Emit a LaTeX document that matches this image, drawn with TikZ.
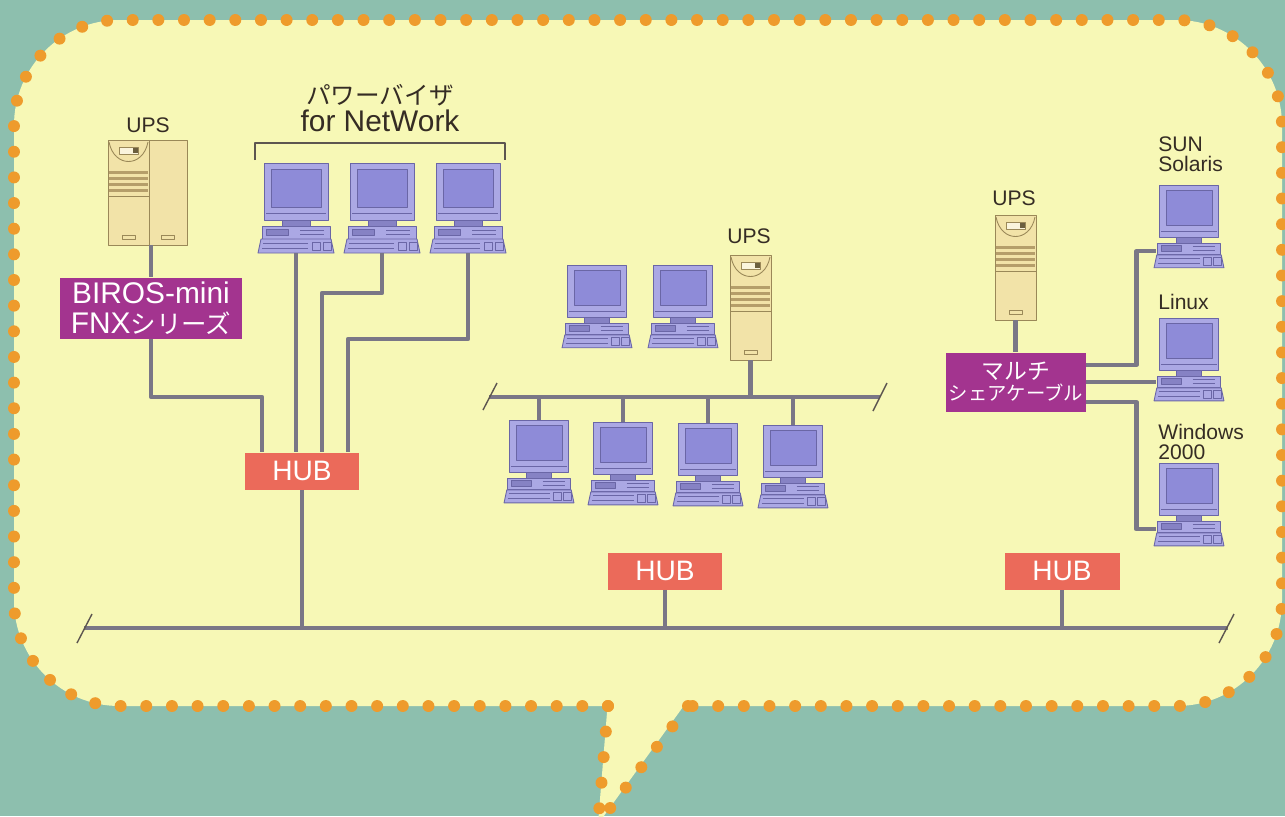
\documentclass[tikz,border=0pt]{standalone}
\usepackage{fontspec}
\setmainfont{Liberation Sans}
\newfontfamily\jp{Noto Sans CJK JP}
\usetikzlibrary{calc}

\definecolor{seabg}{HTML}{8DBFAE}
\definecolor{bubble}{HTML}{F7F8B6}
\definecolor{dotorange}{HTML}{EE9B2C}
\definecolor{wiregray}{HTML}{7A7786}
\definecolor{boxpurple}{HTML}{A3348F}
\definecolor{hubred}{HTML}{EB6A5A}
\definecolor{pcbody}{HTML}{ABA8E4}
\definecolor{pcscreen}{HTML}{8E8BD8}
\definecolor{pcedge}{HTML}{6A66A6}
\definecolor{pcdark}{HTML}{8682C4}
\definecolor{upsbody}{HTML}{F2E3A8}
\definecolor{upsedge}{HTML}{9A8858}
\definecolor{upsstripe}{HTML}{B59E6A}
\definecolor{inkbrown}{HTML}{352C24}

\tikzset{
  wire/.style={draw=wiregray, line width=2.5pt},
  tick/.style={draw=inkbrown!80, line width=0.8pt},
  pcline/.style={draw=pcedge, line width=0.5pt},
  upsline/.style={draw=upsedge, line width=0.5pt},
  hub/.style={fill=hubred, text=white, minimum width=2.3cm, minimum height=0.74cm,
    inner sep=0pt, font=\fontsize{16}{16}\selectfont},
  tag/.style={fill=boxpurple, text=white, align=center, inner sep=0pt},
  lbl/.style={text=inkbrown, inner sep=0pt, font=\fontsize{12}{11.5}\selectfont},
  dotline/.style={draw=dotorange, line width=6.8pt, line cap=round, dash pattern=on 0pt off 14.6pt},
  % desktop computer, origin at top centre of the monitor
  pc/.pic={
    \draw[pcline, fill=pcbody] (-32,0) rectangle (32,57);
    \draw[pcline, fill=pcscreen] (-25,6) rectangle (25,44);
    \draw[pcline] (-30,50) -- (30,50);
    \draw[pcline, fill=pcdark] (-14,57) rectangle (14,63);
    \draw[pcline, fill=pcbody] (-34,63) rectangle (34,76);
    \draw[pcline, fill=pcdark] (-30,66) rectangle (-8,72);
    \draw[pcline] (4,67) -- (28,67) (4,71) -- (28,71);
    \draw[pcline, fill=pcbody] (-35,76) -- (35,76) -- (38,90) -- (-38,90) -- cycle;
    \draw[pcline] (-33,80) -- (12,80) (-34,85) -- (12,85);
    \draw[pcline] (16,79) rectangle (24,87) (27,79) rectangle (35,87);
    \coordinate (-top) at (0,0);
    \coordinate (-base) at (0,90);
    \coordinate (-side) at (-36,72);
  },
  % tower UPS, origin at top left
  ups/.pic={
    \draw[upsline, fill=upsbody] (0,0) rectangle (41,105);
    \draw[upsline] (1,2) .. controls (6,28) and (35,28) .. (40,2);
    \draw[upsline, fill=white!60!upsbody] (11,7) rectangle (30,14);
    \fill[upsedge!70!black] (25,8) rectangle (30,13);
    \foreach \s in {31,37,43,49}
      \fill[upsstripe] (1,\s) rectangle (40,\s+2.5);
    \draw[upsline] (0,56) -- (41,56);
    \draw[upsline] (14,95) rectangle (27,99);
    \coordinate (-bot) at (20.5,105);
  }
}

\begin{document}
\begin{tikzpicture}[x=0.02cm, y=-0.02cm, line join=round]
  \fill[seabg] (0,0) rectangle (1285,816);
  \useasboundingbox (0,0) rectangle (1285,816);
  \clip (0,0) rectangle (1285,816);

  % speech bubble
  \fill[bubble, rounded corners=60] (14,20) rectangle (1282,706);
  \fill[bubble] (608,700) -- (598,824) -- (688,700) -- cycle;
  \draw[dotline, rounded corners=60] (608,706) -- (14,706) -- (14,20) -- (1282,20) -- (1282,706) -- (688,706);
  \draw[dotline] (608,706) -- (598,824) (688,706) -- (598,824);

  % backbone
  \coordinate (busL) at (84,628);
  \coordinate (busR) at (1228,628);
  \draw[wire] (busL) -- (busR);
  \draw[tick] ($(busL)+(-7,15)$) -- ($(busL)+(8,-14)$);
  \draw[tick] ($(busR)+(-9,15)$) -- ($(busR)+(6,-14)$);

  \node[hub] (hubA) at (302,471) {HUB};
  \node[hub] (hubB) at (665,571) {HUB};
  \node[hub] (hubC) at (1062,571) {HUB};
  \draw[wire] (hubA.south) -- (hubA.south |- busL);
  \draw[wire] (hubB.south) -- (hubB.south |- busL);
  \draw[wire] (hubC.south) -- (hubC.south |- busL);

  % left group
  \node[lbl] (upsAlbl) at (148,125) {UPS};
  \pic (upsA) at (108,140) {ups};
  \draw[upsline, fill=upsbody] (149,140) rectangle (187,245);
  \draw[upsline] (161,235) rectangle (174,239);
  \coordinate (upsAjoin) at (151,245);
  \node[tag, minimum width=3.64cm, minimum height=1.22cm,
    font=\fontsize{17}{17}\selectfont] (biros) at (151,308)
    {BIROS-mini\\FNX{\jp\fontsize{14.5}{17}\selectfont シリーズ}};
  \draw[wire] (upsAjoin) -- (biros.north);
  \draw[wire] (biros.south) -- ++(0,58) -| ($(hubA.north)+(-40,0)$);

  \node[text=inkbrown, align=center, inner sep=0pt, font=\fontsize{17}{15.5}\selectfont] (pwlbl) at (380,108)
    {{\jp\fontsize{14}{15.5}\selectfont パワーバイザ}\\for NetWork};
  \draw[tick] (255,160) -- (255,143) -- (505,143) -- (505,160);

  \pic (pcA) at (296,163) {pc};
  \pic (pcB) at (382,163) {pc};
  \pic (pcC) at (468,163) {pc};
  \draw[wire] (pcA-base) -- (pcA-base |- hubA.north);
  \draw[wire] (pcB-base) -- ++(0,40) -| ($(hubA.north)+(20,0)$);
  \draw[wire] (pcC-base) -- ++(0,86) -| ($(hubA.north)+(46,0)$);

  % middle group
  \pic[scale=0.92] (pcD) at (597,265) {pc};
  \pic[scale=0.92] (pcE) at (683,265) {pc};
  \node[lbl] (upsBlbl) at (749,236) {UPS};
  \pic (upsB) at (730,255) {ups};

  \coordinate (busML) at (489,397);
  \coordinate (busMR) at (880,397);
  \draw[wire] (busML) -- (busMR);
  \draw[tick] ($(busML)+(-6,13)$) -- ($(busML)+(8,-14)$);
  \draw[tick] ($(busMR)+(-7,14)$) -- ($(busMR)+(7,-14)$);
  \draw[wire] (upsB-bot) -- (upsB-bot |- busML);

  \pic[scale=0.92] (pcF) at (539,420) {pc};
  \pic[scale=0.92] (pcG) at (623,422) {pc};
  \pic[scale=0.92] (pcH) at (708,423) {pc};
  \pic[scale=0.92] (pcI) at (793,425) {pc};
  \foreach \p in {pcF,pcG,pcH,pcI}
    \draw[wire] (\p-top) -- (\p-top |- busML);

  % right group
  \node[lbl] (upsClbl) at (1014,198) {UPS};
  \pic (upsC) at (995,215) {ups};
  \node[tag, minimum width=2.8cm, minimum height=1.18cm] (multi) at (1016,382)
    {{\jp\fontsize{13}{14}\selectfont マルチ}\\{\jp\fontsize{11}{14}\selectfont シェアケーブル}};
  \draw[wire] (upsC-bot) -- (upsC-bot |- multi.north);

  \node[lbl, align=left, anchor=west] (sunlbl) at (1158,154) {SUN\\Solaris};
  \node[lbl, anchor=west] (linuxlbl) at (1158,302) {Linux};
  \node[lbl, align=left, anchor=west] (winlbl) at (1158,442) {Windows\\2000};
  \pic[scale=0.92] (pcSun) at (1189,185) {pc};
  \pic[scale=0.92] (pcLinux) at (1189,318) {pc};
  \pic[scale=0.92] (pcWin) at (1189,463) {pc};
  \draw[wire] ($(multi.east)+(0,-17)$) -- ++(50,0) |- (pcSun-side);
  \draw[wire] (multi.east) -- (multi.east -| pcLinux-side);
  \draw[wire] ($(multi.east)+(0,20)$) -- ++(50,0) |- (pcWin-side);
\end{tikzpicture}
\end{document}
